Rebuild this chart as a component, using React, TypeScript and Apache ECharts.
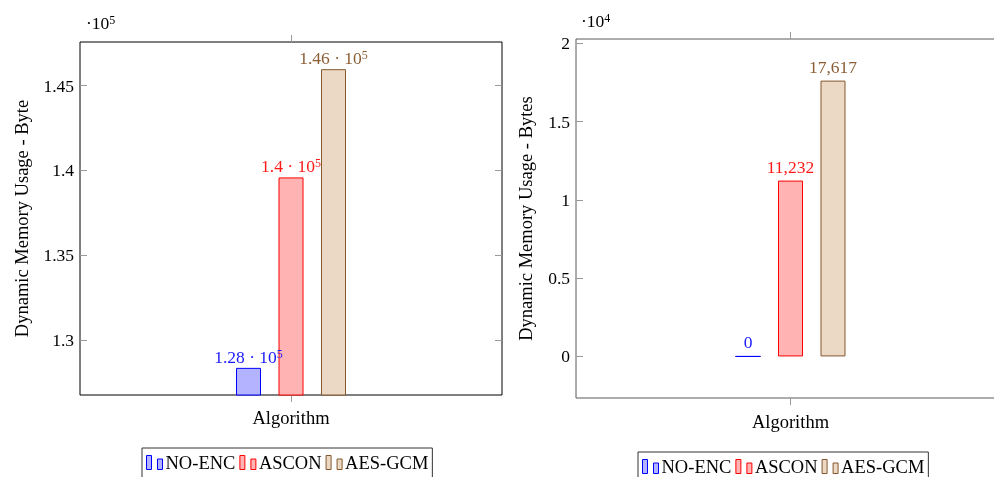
import React, { useEffect, useRef } from "react";
import * as echarts from "echarts";

const categories = ["Algorithm"];
const seriesNames = ["NO-ENC", "ASCON", "AES-GCM"];
const leftValues = [128350, 139582, 145967];
const rightValues = [0, 11232, 17617];
const leftTicks = [130000, 135000, 140000, 145000];
const rightTicks = [0, 5000, 10000, 15000, 20000];
const leftAxisName = "Dynamic Memory Usage - Byte";
const rightAxisName = "Dynamic Memory Usage - Bytes";

const strokeColors = ["#0000ff", "#ff0000", "#85572d"];
const fillColors = ["#b3b3ff", "#ffb3b3", "#ebd9c6"];
const labelColors = ["#1a1aff", "#ff1a1a", "#8b5e34"];

const FONT = "Liberation Serif";
const FS = 17.5;
const FW = 18.5;
const ICON = "path://M0,0 H5 V14 H0 Z M11,3.5 H16 V14 H11 Z";

function trim(v: number, d: number) {
  return String(parseFloat(v.toFixed(d)));
}

export default function App() {
  const ref = useRef<HTMLDivElement>(null);
  useEffect(() => {
    if (!ref.current) return;
    const chart = echarts.init(ref.current, undefined, { renderer: "svg" });
    const tickStyle = { color: "#9a9a9a", width: 1 };
    const rich = {
      m: { fontFamily: FONT, fontSize: FS, lineHeight: 18 },
      s: { fontFamily: FONT, fontSize: 12, lineHeight: 12, verticalAlign: "top" },
    };
    const makeYAxes = (grid: number, min: number, max: number, ticks: number[], div: number, name?: string, gap?: number) => [
      {
        type: "value",
        gridIndex: grid,
        position: "left",
        min,
        max,
        name,
        nameLocation: "middle",
        nameGap: gap,
        nameRotate: 90,
        nameTextStyle: { fontFamily: FONT, fontSize: FW, color: "#000", padding: [0, 0, 0, 0] },
        axisLine: { show: false, onZero: false },
        splitLine: { show: false },
        axisTick: { show: true, inside: true, length: 7, lineStyle: tickStyle, customValues: ticks },
        axisLabel: {
          fontFamily: FONT,
          fontSize: FS,
          color: "#000",
          margin: 6,
          customValues: ticks,
          formatter: (v: number) => trim(v / div, 3),
        },
      },
      {
        type: "value",
        gridIndex: grid,
        position: "right",
        min,
        max,
        axisLine: { show: false, onZero: false },
        splitLine: { show: false },
        axisTick: { show: true, inside: true, length: 7, lineStyle: tickStyle, customValues: ticks },
        axisLabel: { show: false, customValues: ticks },
      },
    ];
    const makeXAxes = (grid: number, margin: number) => [
      {
        type: "category",
        gridIndex: grid,
        position: "bottom",
        data: categories,
        axisLine: { show: false, onZero: false },
        axisTick: { show: true, alignWithLabel: true, length: 7, lineStyle: tickStyle },
        axisLabel: { fontFamily: FONT, fontSize: FW, color: "#000", margin },
      },
      {
        type: "category",
        gridIndex: grid,
        position: "top",
        data: categories,
        axisLine: { show: false, onZero: false },
        axisTick: { show: true, alignWithLabel: true, length: 7, lineStyle: tickStyle },
        axisLabel: { show: false },
      },
    ];
    const series: any[] = [];
    seriesNames.forEach((name, i) => {
      series.push({
        type: "bar",
        name,
        xAxisIndex: 0,
        yAxisIndex: 0,
        data: [leftValues[i]],
        barWidth: 25,
        barGap: "70%",
        itemStyle: { color: fillColors[i], borderColor: strokeColors[i], borderWidth: 1 },
        label: {
          show: true,
          position: "top",
          distance: 2,
          color: labelColors[i],
          formatter: (p: any) => `{m|${trim(p.value / 1e5, 2)} · 10}{s|5}`,
          rich: {
            m: { ...rich.m, color: labelColors[i] },
            s: { ...rich.s, color: labelColors[i] },
          },
        },
      });
    });
    seriesNames.forEach((name, i) => {
      series.push({
        type: "bar",
        name,
        xAxisIndex: 2,
        yAxisIndex: 2,
        data: [rightValues[i]],
        barWidth: 25,
        barGap: "70%",
        itemStyle: { color: fillColors[i], borderColor: strokeColors[i], borderWidth: 1 },
        label: {
          show: true,
          position: "top",
          distance: 5,
          color: labelColors[i],
          fontFamily: FONT,
          fontSize: FS,
          lineHeight: 18,
          formatter: (p: any) => Number(p.value).toLocaleString("en-US"),
        },
      });
    });
    const legendData = seriesNames.map((name, i) => ({
      name,
      icon: ICON,
      itemStyle: { color: fillColors[i], borderColor: strokeColors[i], borderWidth: 1 },
    }));
    const legendBase = {
      orient: "horizontal",
      itemGap: 4,
      itemWidth: 16,
      itemHeight: 14,
      padding: [5, 4, 6, 4],
      borderColor: "#333",
      borderWidth: 1,
      selectedMode: false,
      textStyle: { fontFamily: FONT, fontSize: FW, color: "#000", padding: [0, 0, 0, -2] },
      data: legendData,
    };
    chart.setOption({
      animation: false,
      grid: [
        { left: 80, top: 42, width: 422, height: 353, show: true, borderColor: "#000", borderWidth: 1, backgroundColor: "transparent" },
        { left: 576, top: 39, width: 429, height: 359, show: true, borderColor: "#5a5a5a", borderWidth: 1, backgroundColor: "transparent" },
      ],
      xAxis: [...makeXAxes(0, 13), ...makeXAxes(1, 14)],
      yAxis: [
        ...makeYAxes(0, 126750, 147570, leftTicks, 1e5, leftAxisName, 49),
        ...makeYAxes(1, -2655, 20275, rightTicks, 1e4, rightAxisName, 41),
      ],
      legend: [
        { ...legendBase, left: 142, top: 448 },
        { ...legendBase, left: 638, top: 452 },
      ],
      graphic: [
        {
          type: "text",
          left: 86,
          top: 14,
          style: { text: "{m|·10}{s|5}", rich: { m: { ...rich.m, color: "#000" }, s: { ...rich.s, color: "#000" } } },
        },
        {
          type: "text",
          left: 581,
          top: 12,
          style: { text: "{m|·10}{s|4}", rich: { m: { ...rich.m, color: "#000" }, s: { ...rich.s, color: "#000" } } },
        },
      ],
      series,
    });
    return () => chart.dispose();
  }, []);
  return <div ref={ref} style={{ position: "fixed", left: 0, top: 0, width: 1012, height: 477 }} />;
}
